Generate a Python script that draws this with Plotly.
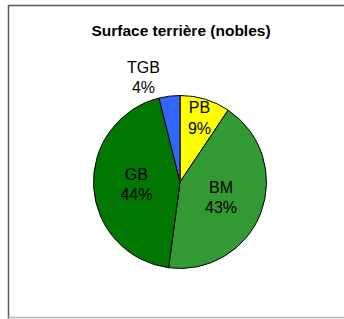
import plotly.graph_objects as go

labels = ["PB", "BM", "GB", "TGB"]
values = [9.4, 42.7, 44.0, 3.9]
colors = ["#FFFF00", "#339933", "#007700", "#3366FF"]
positions = ["inside", "inside", "inside", "outside"]

W, H = 344, 319
cx, cy, r = 180, 182, 86.5


def px(x):
    return x / W


def py(y):
    return 1 - y / H


fig = go.Figure(go.Pie(
    labels=labels,
    values=values,
    sort=False,
    direction="clockwise",
    rotation=0,
    marker=dict(colors=colors, line=dict(color="#000000", width=1)),
    texttemplate="%{label}<br>%{percent:.0%}",
    textposition=positions,
    insidetextorientation="horizontal",
    textfont=dict(family="Liberation Sans, Arial, sans-serif", size=16, color="#000000"),
    insidetextfont=dict(color="#000000"),
    outsidetextfont=dict(color="#000000"),
    hoverinfo="label+percent",
    showlegend=False,
    domain=dict(x=[px(cx - r), px(cx + r)], y=[py(cy + r), py(cy - r)]),
))

border_dark = "#5a5a5a"
border_light = "#b4b4b4"

fig.update_layout(
    width=W, height=H,
    margin=dict(l=0, r=0, t=0, b=0),
    paper_bgcolor="#FFFFFF",
    plot_bgcolor="#FFFFFF",
    uniformtext=dict(minsize=16, mode="show"),
    title=dict(
        text="<b>Surface terrière (nobles)</b>",
        x=px(181), xanchor="center",
        y=py(31), yanchor="middle", yref="container",
        font=dict(family="Liberation Sans, Arial, sans-serif", size=15.5, color="#000000"),
    ),
    shapes=[
        dict(type="line", xref="paper", yref="paper",
             x0=px(8), x1=px(344), y0=py(5.5), y1=py(5.5),
             line=dict(color=border_dark, width=1.5)),
        dict(type="line", xref="paper", yref="paper",
             x0=px(8.5), x1=px(8.5), y0=py(5), y1=py(319),
             line=dict(color=border_dark, width=1.5)),
        dict(type="line", xref="paper", yref="paper",
             x0=px(8), x1=px(344), y0=py(317.5), y1=py(317.5),
             line=dict(color=border_light, width=1.5)),
    ],
)

fig.write_html(
    "out.html",
    config={"displayModeBar": False},
    post_script="document.body.style.margin='0';document.body.style.overflow='hidden';",
)
